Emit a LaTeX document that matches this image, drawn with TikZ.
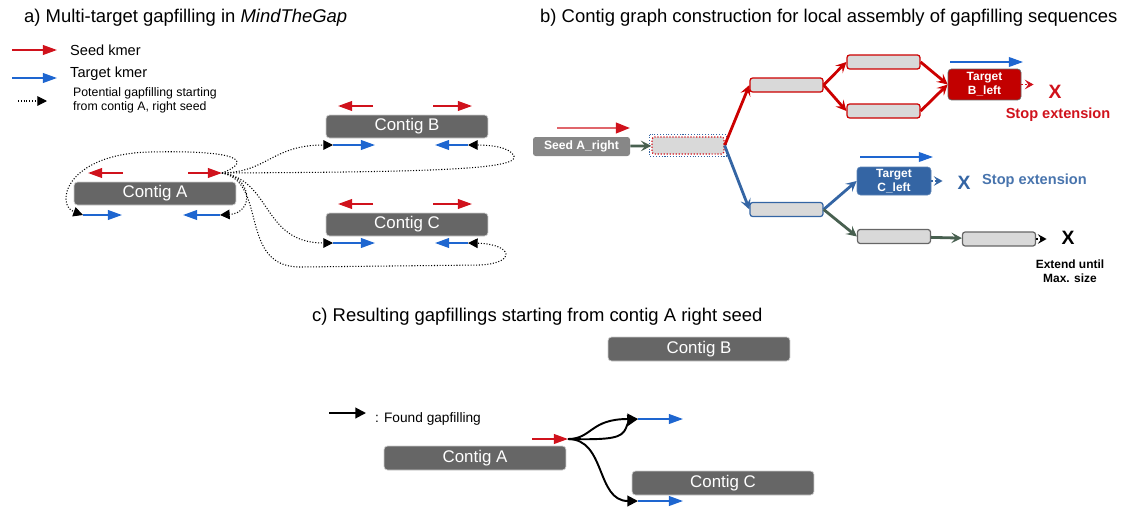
\documentclass[tikz,border=0pt]{standalone}
\usepackage{fontspec}
\setmainfont{Liberation Sans}
\usetikzlibrary{arrows.meta}
\usetikzlibrary{calc}
\definecolor{kred}{RGB}{208,18,28}
\definecolor{kblue}{RGB}{30,102,208}
\definecolor{contiggray}{RGB}{102,102,102}
\definecolor{boxgray}{RGB}{217,217,217}
\definecolor{pathred}{RGB}{204,0,0}
\definecolor{pathblue}{RGB}{52,101,164}
\definecolor{pathgreen}{RGB}{72,96,80}
\tikzset{
  contig/.style={rectangle, rounded corners=2pt, fill=contiggray, draw=black!20,
    minimum width=3.24cm, minimum height=0.46cm, inner sep=0pt, text=white,
    font=\fontsize{9.6}{11}\selectfont},
  seedkmer/.style={kred, line width=1pt, -{Triangle[length=8pt,width=5.5pt]}},
  tgtkmer/.style={kblue, line width=1pt, -{Triangle[length=8pt,width=5.5pt]}},
  potential/.style={densely dotted, line width=0.6pt, -{Triangle[length=5.5pt,width=5.5pt]}},
  found/.style={line width=1.1pt, -{Triangle[length=6pt,width=6pt]}},
  ctgbox/.style={rectangle, rounded corners=1.5pt, fill=boxgray, inner sep=0pt,
    minimum width=1.46cm, minimum height=0.28cm, line width=0.7pt},
  target/.style={rectangle, rounded corners=2pt, inner sep=0pt, text=white, align=center,
    minimum width=1.46cm, font=\bfseries\fontsize{6.8}{8}\selectfont},
  ext/.style={line width=1.6pt, -{Stealth[length=6pt,width=6pt,inset=2.5pt]}},
  stoparrow/.style={densely dotted, line width=1pt, shorten >=5pt,
    -{Stealth[length=5pt,width=5.5pt,inset=2pt]}},
  bigx/.style={font=\bfseries\fontsize{11}{12}\selectfont},
  title/.style={anchor=west, font=\fontsize{10.5}{12}\selectfont}
}
\begin{document}
\begin{tikzpicture}[x=0.02cm, y=-0.02cm]
\useasboundingbox (0,0) rectangle (1128,507);

% a) multi-target gapfilling
\node[title] (titleA) at (18,18) {a) Multi-target gapfilling in \textit{MindTheGap}};
\draw[seedkmer] (12,50) -- (57,50);
\node[anchor=west, font=\fontsize{8.3}{10}\selectfont] (legSeed) at (64,50) {Seed kmer};
\draw[tgtkmer] (12,78) -- (57,78);
\node[anchor=west, font=\fontsize{8.3}{10}\selectfont] (legTgt) at (64,74) {Target kmer};
\draw[potential] (18,101) -- (47,101);
\node[anchor=west, align=left, font=\fontsize{7}{8}\selectfont] (legPot) at (67,100) {Potential gapfilling starting\\from contig A, right seed};

\node[contig] (contigA) at (155,193.5) {Contig A};
\node[contig] (contigB) at (407,126.5) {Contig B};
\node[contig] (contigC) at (407,224.5) {Contig C};

\draw[seedkmer] (123,173) -- (88,173);
\draw[seedkmer] (188,173) -- (222,173);
\draw[tgtkmer] (83,215) -- (122,215);
\draw[tgtkmer] (220,215) -- (183,215);
\draw[seedkmer] (373,106) -- (338,106);
\draw[seedkmer] (433,106) -- (472,106);
\draw[tgtkmer] (333,145) -- (375,145);
\draw[tgtkmer] (468,145) -- (435,145);
\draw[seedkmer] (373,204) -- (338,204);
\draw[seedkmer] (433,204) -- (472,204);
\draw[tgtkmer] (333,243) -- (375,243);
\draw[tgtkmer] (468,243) -- (435,243);

\coordinate (aSeed) at (222,173);
\coordinate (aTgtL) at (83,215);
\coordinate (aTgtR) at (220,215);
\coordinate (bTgtL) at (333,145);
\coordinate (bTgtR) at (468,145);
\coordinate (cTgtL) at (333,243);
\coordinate (cTgtR) at (468,243);

\draw[potential] (aSeed) .. controls (255,160) and (235,150) .. (150,152)
  .. controls (65,154) and (55,205) .. (aTgtL);
\draw[potential] (aSeed) .. controls (252,176) and (255,213) .. (aTgtR);
\draw[potential] (aSeed) .. controls (268,172) and (272,145) .. (bTgtL);
\draw[potential] (aSeed) .. controls (420,172) and (520,170) .. (514,156)
  .. controls (510,147) and (490,145) .. (bTgtR);
\draw[potential] (aSeed) .. controls (272,180) and (262,243) .. (cTgtL);
\draw[potential] (aSeed) .. controls (268,182) and (238,267) .. (300,267)
  -- (480,265) .. controls (518,263) and (512,244) .. (cTgtR);

% b) contig graph
\node[title] (titleB) at (534,18) {b) Contig graph construction for local assembly of gapfilling sequences};
\draw[kred!65, line width=1.2pt, -{Triangle[length=8pt,width=6pt,color=kred]}] (557,128) -- (630,128);
\node[rectangle, rounded corners=1.5pt, fill=black!47, minimum width=1.94cm, minimum height=0.38cm,
  inner sep=0pt, text=white, font=\bfseries\fontsize{6.9}{8}\selectfont] (seedR) at (581.5,146.5) {Seed A\_right};
\node[ctgbox, draw=kred, densely dotted, minimum width=1.44cm, minimum height=0.34cm] (start) at (688,145.5) {};
\draw[pathblue, densely dotted, line width=0.6pt] ([shift={(-1pt,1pt)}]start.north west) rectangle ([shift={(1pt,-1pt)}]start.south east);

\node[ctgbox, draw=pathred] (r1) at (786.5,85) {};
\node[ctgbox, draw=pathred] (r2a) at (883.5,62) {};
\node[ctgbox, draw=pathred] (r2b) at (883.5,111) {};
\node[target, fill=pathred!95!black, draw=black!60, minimum height=0.62cm] (tgtB) at (984.5,84.5) {Target\\B\_left};
\node[ctgbox, draw=pathblue] (b1) at (786.5,209.5) {};
\node[target, fill=pathblue, draw=pathblue!80, minimum width=1.48cm, minimum height=0.56cm] (tgtC) at (894,181) {Target\\C\_left};
\node[ctgbox, draw=black!60] (g1) at (894,236.5) {};
\node[ctgbox, draw=black!60] (g2) at (999,239) {};

\draw[ext, pathgreen] (seedR) -- (start);
\draw[ext, pathred] (start.east) -- (r1.west);
\draw[ext, pathblue] (start.east) -- (b1.west);
\draw[ext, pathred] (r1.east) -- (r2a.west);
\draw[ext, pathred] (r1.east) -- (r2b.west);
\draw[ext, pathred] (r2a.east) -- (tgtB.west);
\draw[ext, pathred] (r2b.east) -- (tgtB.west);
\draw[ext, pathblue] (b1.east) -- (tgtC.west);
\draw[ext, pathgreen] (b1.east) -- (g1.west);
\draw[ext, pathgreen] (g1) -- (g2);

\draw[tgtkmer, line width=0.8pt] (950,62) -- (1023,62);
\draw[tgtkmer, line width=0.8pt] (860,157) -- (933,157);

\node[bigx, text=kred] (xB) at (1055,92) {X};
\node[font=\bfseries\fontsize{8.3}{10}\selectfont, text=kred] (stopB) at (1058,115) {Stop extension};
\node[bigx, text=pathblue] (xC) at (964,183) {X};
\node[anchor=west, font=\bfseries\fontsize{8.3}{10}\selectfont, text=pathblue!90!white] (stopC) at (976,181) {Stop extension};
\node[bigx] (xG) at (1068,238) {X};
\node[align=center, font=\bfseries\fontsize{6.8}{8}\selectfont] (maxG) at (1070,271) {Extend until\\Max. size};

\draw[stoparrow, kred] (tgtB.east) -- (xB.west |- tgtB.east);
\draw[stoparrow, pathblue] (tgtC.east) -- (xC.west |- tgtC.east);
\draw[stoparrow] (g2.east) -- (xG.west |- g2.east);

% c) resulting gapfillings
\node[title] (titleC) at (306,317) {c) Resulting gapfillings starting from contig A right seed};
\node[contig, minimum width=3.64cm, minimum height=0.48cm] (resB) at (699,349) {Contig B};
\node[contig, minimum width=3.64cm, minimum height=0.48cm] (resA) at (475,458) {Contig A};
\node[contig, minimum width=3.64cm, minimum height=0.48cm] (resC) at (723,483) {Contig C};
\draw[found] (329,413) -- (366,413);
\node[anchor=west, font=\fontsize{7.8}{9}\selectfont] (legFound) at (369,419) {: Found gapfilling};

\draw[seedkmer] (532,439) -- (568,439);
\draw[tgtkmer] (638,419) -- (683,419);
\draw[tgtkmer] (638,501) -- (683,501);
\coordinate (rSeed) at (568,439);
\coordinate (rTgtB) at (638,419);
\coordinate (rTgtC) at (638,501);
\draw[found] (rSeed) .. controls (592,439) and (590,419) .. (rTgtB);
\draw[found] (rSeed) .. controls (612,440) and (622,438) .. (626,428) .. controls (628,422) and (630,420) .. (rTgtB);
\draw[found] (rSeed) .. controls (606,439) and (596,501) .. (rTgtC);
\end{tikzpicture}
\end{document}
